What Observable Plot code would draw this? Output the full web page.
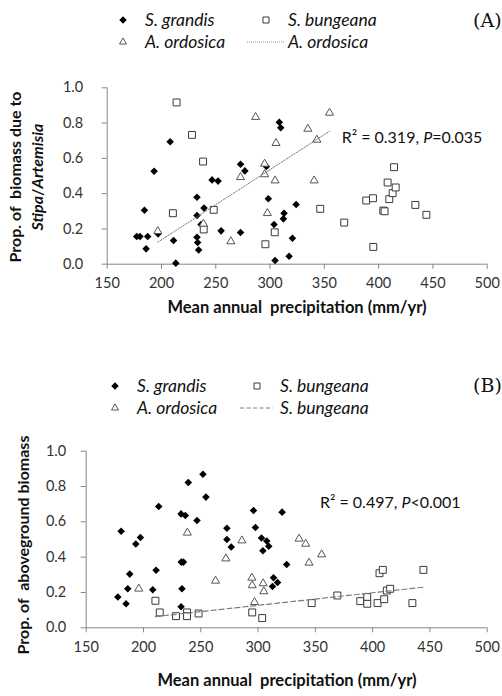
<!DOCTYPE html>
<html><head><meta charset="utf-8">
<script src="https://cdn.jsdelivr.net/npm/d3@7"></script>
<script src="https://cdn.jsdelivr.net/npm/@observablehq/plot@0.6"></script>
<style>
html,body{margin:0;padding:0;background:#fff;}
#wrap{position:relative;width:502px;height:696px;overflow:hidden;font-family:Lato,"Open Sans",sans-serif;color:#222;}
#wrap svg.plot{position:absolute;left:0;}
.t{position:absolute;line-height:1;white-space:pre;transform:translate(0,-50%);}
.c{transform:translate(-50%,-50%);}
.leg{font-style:italic;font-size:17.5px;color:#111;}
.ytitle{position:absolute;font-weight:bold;font-size:16px;white-space:pre;line-height:1;transform:translate(-50%,-50%) rotate(-90deg);color:#111;}
.xtitle{font-weight:bold;font-size:16.5px;color:#111;}
.tag{font-family:"DejaVu Serif","Liberation Serif",serif;font-size:19px;color:#111;}
.r2{font-size:16px;color:#111;}
svg.icon{position:absolute;overflow:visible;}
</style></head>
<body><div id="wrap"></div>
<script>
// ---------- data ----------
const xTicks = [150, 200, 250, 300, 350, 400, 450, 500];
const yTicks = [0, 0.2, 0.4, 0.6, 0.8, 1.0];
const speciesNames = ["S. grandis", "S. bungeana", "A. ordosica"];

// Panel A: proportion of biomass due to Stipa/Artemisia
const aGrandisX = [177.2,180.2,187.3,184.3,185.8,193.2,196.9,208,211.1,213.2,232.7,232.7,232.7,233.3,234.2,236.4,239.2,246.6,252.1,254.9,272.8,276.8,272.8,296.6,298.4,303.7,304.6,308.5,309.8,324,312.9,312.3,320.6,317.5];
const aGrandisY = [0.157,0.157,0.157,0.306,0.087,0.527,0.172,0.694,0.134,0.006,0.38,0.276,0.153,0.123,0.081,0.225,0.318,0.478,0.471,0.189,0.567,0.529,0.18,0.554,0.371,0.225,0.021,0.805,0.773,0.338,0.289,0.257,0.147,0.045];
const aBungeanaX = [213.9,228.1,238.3,210.5,248.1,238.9,295.7,304.3,346.2,368.3,395.1,388.6,394.8,404.3,405.5,408.3,414.2,409.8,412.9,415.7,433.8,444];
const aBungeanaY = [0.917,0.733,0.582,0.289,0.308,0.197,0.113,0.181,0.314,0.236,0.098,0.361,0.374,0.304,0.30,0.463,0.55,0.369,0.403,0.435,0.336,0.28];
const aOrdosicaX = [196.6,238.6,263.9,272.8,286.7,295,295,297.5,304.6,305.5,354.8,334.8,343.1,340.6];
const aOrdosicaY = [0.187,0.229,0.129,0.493,0.834,0.509,0.569,0.289,0.474,0.686,0.858,0.767,0.705,0.474];
const aTrend = {species: "A. ordosica", intercept: -0.6567, slope: 0.003976};
const aR2 = "0.319";
const aP = "=0.035";

// Panel B: proportion of aboveground biomass
const bGrandisX = [177.6,180.5,184.8,186.3,188,193.3,197.3,208.1,211,213.3,232.8,236.5,233,234.8,233.6,232.8,239.1,246.7,251.9,254.5,272.8,272.8,276.6,296,297.7,303,307.6,309.3,304.2,313.5,312.6,317,321,325];
const bGrandisY = [0.174,0.547,0.136,0.221,0.304,0.474,0.511,0.215,0.326,0.687,0.645,0.636,0.372,0.372,0.221,0.119,0.823,0.608,0.87,0.74,0.564,0.5,0.457,0.664,0.568,0.508,0.491,0.462,0.436,0.283,0.234,0.257,0.655,0.358];
const bBungeanaX = [210.4,214.2,228.4,238,238,248.1,294.9,303.6,346.8,369.2,389.2,395.3,395.3,404.3,406,408.9,410.1,412.4,415.3,434.7,444.3];
const bBungeanaY = [0.153,0.087,0.066,0.087,0.066,0.081,0.087,0.055,0.14,0.183,0.151,0.174,0.136,0.14,0.309,0.328,0.162,0.211,0.221,0.14,0.328];
const bOrdosicaX = [195.9,238.3,262.9,271.9,285.9,294.6,294.9,296.9,304.4,305,335.8,341.6,355.5,344.5];
const bOrdosicaY = [0.221,0.538,0.266,0.392,0.494,0.283,0.24,0.145,0.251,0.206,0.504,0.475,0.415,0.368];
const bTrend = {species: "S. bungeana", intercept: -0.0867, slope: 0.000713};
const bR2 = "0.497";
const bP = "<0.001";

// ---------- helpers ----------
const wrap = document.getElementById("wrap");
const AX = "#868686";
const pts = (xs, ys) => xs.map((x, i) => ({x, y: ys[i]}));

function panel(cfg) {
  const gr = pts(cfg.grX, cfg.grY), bu = pts(cfg.buX, cfg.buY), or = pts(cfg.orX, cfg.orY);
  const trendSrc = cfg.trend.species === "A. ordosica" ? or : bu;
  const ext = d3.extent(trendSrc, d => d.x);
  const trendLine = ext.map(x => ({x, y: cfg.trend.intercept + cfg.trend.slope * x}));
  const svg = Plot.plot({
    width: 502, height: cfg.height,
    marginTop: cfg.mt, marginBottom: cfg.mb, marginLeft: cfg.ml, marginRight: 15.3,
    x: {domain: [150, 500]},
    y: {domain: [0, 1]},
    style: {fontFamily: "Lato, sans-serif", fontSize: "14.5px", background: "transparent", overflow: "visible"},
    marks: [
      Plot.ruleY([0], {stroke: AX}),
      Plot.ruleX([150], {stroke: AX}),
      Plot.axisX({ticks: xTicks, tickSize: 5, tickPadding: 9, stroke: AX, fill: "#333", label: null, tickFormat: d => String(d)}),
      Plot.axisY({ticks: yTicks, tickSize: 5, tickPadding: cfg.yPad, stroke: AX, fill: "#333", label: null, tickFormat: d3.format(".1f")}),
      Plot.dot(gr, {x: "x", y: "y", symbol: "diamond2", r: 3.4, fill: "#000", stroke: "none"}),
      Plot.dot(bu, {x: "x", y: "y", symbol: "square", r: 3.9, fill: "#fff", stroke: "#3a3a3a", strokeWidth: 1}),
      Plot.dot(or, {x: "x", y: "y", symbol: "triangle", r: 3, fill: "#fff", stroke: "#555", strokeWidth: 1}),
      Plot.line(trendLine, {x: "x", y: "y", stroke: "#7a7a7a", strokeWidth: cfg.dashW, strokeDasharray: cfg.dash})
    ]
  });
  svg.classList.add("plot");
  svg.style.top = cfg.top + "px";
  wrap.appendChild(svg);
}

function text(str, left, top, cls, html) {
  const d = document.createElement("div");
  d.className = "t " + cls;
  d.style.left = left + "px"; d.style.top = top + "px";
  if (html) d.innerHTML = str; else d.textContent = str;
  wrap.appendChild(d);
  return d;
}
function icon(kind, cx, cy, x2, dash) {
  const ns = "http://www.w3.org/2000/svg";
  const s = document.createElementNS(ns, "svg");
  s.setAttribute("class", "icon");
  s.setAttribute("width", 1); s.setAttribute("height", 1);
  s.style.left = cx + "px"; s.style.top = cy + "px";
  const sym = kind === "diamond" ? d3.symbolDiamond2 : kind === "square" ? d3.symbolSquare : d3.symbolTriangle;
  if (kind === "line") {
    const l = document.createElementNS(ns, "line");
    l.setAttribute("x1", 0); l.setAttribute("x2", x2 - cx); l.setAttribute("y1", 0); l.setAttribute("y2", 0);
    l.setAttribute("stroke", "#7a7a7a"); l.setAttribute("stroke-dasharray", dash[0]); l.setAttribute("stroke-width", dash[1]);
    s.appendChild(l);
  } else {
    const p = document.createElementNS(ns, "path");
    const size = {diamond: 3.4, square: 3.4, triangle: 2.6}[kind];
    p.setAttribute("d", d3.symbol(sym, Math.PI * size * size)());
    if (kind === "diamond") p.setAttribute("fill", "#000");
    else { p.setAttribute("fill", "#fff"); p.setAttribute("stroke", kind === "square" ? "#3a3a3a" : "#555"); }
    s.appendChild(p);
  }
  wrap.appendChild(s);
}
function legend(y1, y2, xi, xt, xs, xl1, xl2, xt2, lineName, dash) {
  icon("diamond", xi, y1); text(speciesNames[0], xt, y1, "leg");
  icon("square", xs, y1); text(speciesNames[1], xt2, y1, "leg");
  icon("triangle", xi, y2); text(speciesNames[2], xt, y2, "leg");
  icon("line", xl1, y2, xl2, dash); text(lineName, xt2, y2, "leg");
}
const statHtml = (r2, p) => "R² = " + r2 + ", <i>P</i>" + p.replace("<", "&lt;");

// ---------- panel A ----------
panel({grX: aGrandisX, grY: aGrandisY, buX: aBungeanaX, buY: aBungeanaY, orX: aOrdosicaX, orY: aOrdosicaY,
  trend: aTrend, top: 0, height: 340, mt: 87.3, mb: 76.3, ml: 106.7, yPad: 19, dash: "1.5,1.5", dashW: 1});
legend(20, 42, 123, 145, 266, 247, 285, 288, aTrend.species, ["1,1", 0.8]);
text("(A)", 473, 20, "tag");
text(statHtml(aR2, aP), 341.7, 137, "r2", true);
text("Mean annual  precipitation (mm/yr)", 297, 307, "xtitle c");
{
  const d = document.createElement("div"); d.className = "ytitle";
  d.style.left = "15px"; d.style.top = "177px"; d.textContent = "Prop. of  biomass due to"; wrap.appendChild(d);
  const e = document.createElement("div"); e.className = "ytitle";
  e.style.left = "37px"; e.style.top = "177px"; e.innerHTML = "<i>Stipa</i>/<i>Artemisia</i>"; wrap.appendChild(e);
}

// ---------- panel B ----------
panel({grX: bGrandisX, grY: bGrandisY, buX: bBungeanaX, buY: bBungeanaY, orX: bOrdosicaX, orY: bOrdosicaY,
  trend: bTrend, top: 350, height: 346, mt: 100.7, mb: 68.7, ml: 85.7, yPad: 15, dash: "5,3", dashW: 1.2});
legend(386, 408, 115, 137, 257, 240, 273, 280, bTrend.species, ["4,2.5", 1]);
text("(B)", 473, 385, "tag");
text(statHtml(bR2, bP), 320, 502, "r2", true);
text("Mean annual  precipitation (mm/yr)", 287, 680, "xtitle c");
{
  const d = document.createElement("div"); d.className = "ytitle";
  d.style.left = "23px"; d.style.top = "545px"; d.textContent = "Prop. of  aboveground biomass"; wrap.appendChild(d);
}
</script>
</body></html>
